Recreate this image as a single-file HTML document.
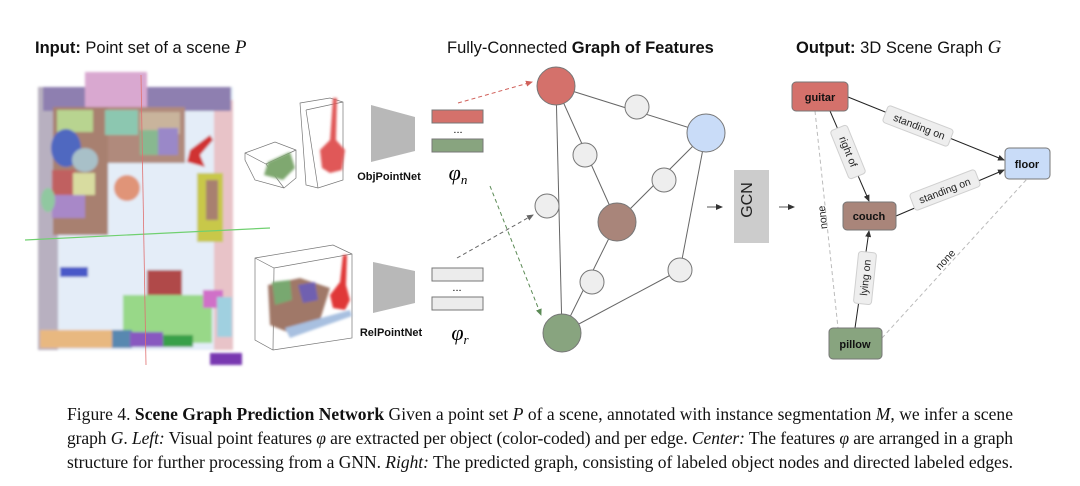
<!DOCTYPE html>
<html><head><meta charset="utf-8"><style>
html,body{margin:0;padding:0;background:#fff;width:1080px;height:486px;overflow:hidden}
svg{display:block}
.t{font-family:"Liberation Sans",sans-serif;font-size:16.5px;fill:#111}
.n{font-family:"Liberation Sans",sans-serif;font-size:11px;font-weight:bold;fill:#111;text-anchor:middle}
.e{font-family:"Liberation Sans",sans-serif;font-size:10.5px;fill:#222;text-anchor:middle}
.c{font-family:"Liberation Serif",serif;font-size:17.5px;fill:#111}
</style></head><body>
<svg width="1080" height="486" viewBox="0 0 1080 486" xmlns="http://www.w3.org/2000/svg">
<defs>
<marker id="a" markerWidth="7" markerHeight="6" refX="6" refY="3" orient="auto" markerUnits="userSpaceOnUse"><path d="M0,0 L7,3 L0,6z" fill="#333"/></marker>
<marker id="ar" markerWidth="7" markerHeight="6" refX="6" refY="3" orient="auto" markerUnits="userSpaceOnUse"><path d="M0,0 L7,3 L0,6z" fill="#d0605a"/></marker>
<marker id="ag" markerWidth="7" markerHeight="6" refX="6" refY="3" orient="auto" markerUnits="userSpaceOnUse"><path d="M0,0 L7,3 L0,6z" fill="#5b8a55"/></marker>
<marker id="ay" markerWidth="7" markerHeight="6" refX="6" refY="3" orient="auto" markerUnits="userSpaceOnUse"><path d="M0,0 L7,3 L0,6z" fill="#666"/></marker>
<filter id="b"><feGaussianBlur stdDeviation="1.2"/></filter>
</defs>

<!-- titles -->
<text class="t" x="35" y="53"><tspan font-weight="bold">Input:</tspan> Point set of a scene <tspan font-family="Liberation Serif" font-style="italic" font-size="19">  P</tspan></text>
<text class="t" x="447" y="53">Fully-Connected <tspan font-weight="bold">Graph of Features</tspan></text>
<text class="t" x="796" y="53"><tspan font-weight="bold">Output:</tspan> 3D Scene Graph <tspan font-family="Liberation Serif" font-style="italic" font-size="19">  G</tspan></text>

<!-- point cloud scene -->
<g filter="url(#b)">
<rect x="38" y="87" width="195" height="263" fill="#e4edf8"/>
<rect x="38" y="87" width="20" height="263" fill="#b8b0c0"/>
<rect x="214" y="100" width="19" height="250" fill="#e8c3c8"/>
<rect x="43" y="87" width="188" height="24" fill="#8e7fb0"/>
<rect x="85" y="72" width="62" height="35" fill="#d9a8d0"/>
<rect x="53" y="107" width="132" height="56" fill="#b08a7c"/>
<rect x="53" y="107" width="55" height="128" fill="#a88070"/>
<rect x="57" y="110" width="36" height="22" fill="#b8d490"/>
<rect x="105" y="110" width="33" height="25" fill="#8cc7b0"/>
<rect x="140" y="112" width="40" height="22" fill="#c9b49c"/>
<rect x="158" y="128" width="20" height="27" fill="#9a88c8"/>
<rect x="140" y="130" width="18" height="25" fill="#88b890"/>
<ellipse cx="66" cy="148" rx="15" ry="19" fill="#5068c0"/>
<ellipse cx="85" cy="160" rx="13" ry="12" fill="#a8c0c8"/>
<rect x="52" y="170" width="23" height="27" fill="#c06060"/>
<rect x="73" y="173" width="22" height="22" fill="#d8dca0"/>
<rect x="52" y="195" width="33" height="23" fill="#a888c8"/>
<ellipse cx="48" cy="200" rx="7" ry="12" fill="#90c8a0"/>
<path d="M190,150 L210,135 L213,140 L200,155 L205,167 L187,162z" fill="#d03030"/>
<circle cx="127" cy="188" r="13" fill="#e09478"/>
<rect x="197" y="173" width="26" height="69" fill="#c8c848"/>
<rect x="206" y="180" width="12" height="40" fill="#a88070"/>
<rect x="60" y="267" width="28" height="10" fill="#4858c8"/>
<rect x="147" y="270" width="35" height="30" fill="#b04848"/>
<rect x="123" y="295" width="89" height="48" fill="#98d888"/>
<rect x="40" y="330" width="72" height="18" fill="#e8b880"/>
<rect x="112" y="330" width="20" height="18" fill="#5888b0"/>
<rect x="130" y="332" width="33" height="15" fill="#8858c0"/>
<rect x="163" y="335" width="30" height="12" fill="#38a048"/>
<rect x="203" y="290" width="20" height="18" fill="#d070c8"/>
<rect x="217" y="297" width="15" height="40" fill="#a0d0e0"/>
<rect x="210" y="353" width="32" height="12" fill="#7838b0"/>
</g>
<line x1="25" y1="240" x2="270" y2="228" stroke="#70d070" stroke-width="1.2"/>
<line x1="141" y1="75" x2="146" y2="365" stroke="#e07070" stroke-width="0.8"/>

<!-- object thumbnails -->
<g stroke="#777" stroke-width="0.7" fill="none">
<path d="M245,153 L275,142 L296,150 L296,178 L284,188 L255,180 L245,160z M245,153 L266,164 L296,150 M266,164 L284,188"/>
<path d="M300,103 L330,98 L343,102 L343,180 L318,188 L306,185 L300,103z M306,110 L343,102 M306,110 L318,188"/>
<path d="M255,258 L333,245 L352,254 L352,338 L273,350 L255,340z M255,258 L274,268 L352,254 M274,268 L273,350"/>
</g>
<g filter="url(#b)">
<path d="M268,162 L290,152 L295,168 L283,180 L264,175z" fill="#7fa870"/>
<path d="M333,98 L337,98 L336,140 L345,150 L342,170 L330,173 L322,168 L320,150 L330,140z" fill="#e05858"/>
<path d="M268,285 L300,278 L330,288 L320,320 L290,333 L270,325z" fill="#a07868"/>
<path d="M272,282 L290,280 L292,300 L275,305z" fill="#78a870"/>
<path d="M298,285 L315,282 L318,300 L303,303z" fill="#7060b0"/>
<path d="M343,255 L347,255 L346,285 L350,300 L345,310 L333,308 L330,295 L340,282z" fill="#e03838"/>
<path d="M285,328 L350,310 L352,316 L290,338z" fill="#a8c0e0"/>
</g>

<!-- pointnets -->
<polygon points="371,105 415,117 415,151 371,162" fill="#b8b8b8"/>
<polygon points="373,262 415,271 415,303 373,313" fill="#b8b8b8"/>
<text class="n" x="389" y="180" font-size="11.5">ObjPointNet</text>
<text class="n" x="391" y="336" font-size="11.5">RelPointNet</text>

<rect x="432" y="110" width="51" height="13" fill="#d4716b" stroke="#777"/>
<rect x="432" y="139" width="51" height="13" fill="#88a47f" stroke="#777"/>
<text x="458" y="133" font-size="11" text-anchor="middle" font-family="Liberation Sans">...</text>
<rect x="432" y="268" width="51" height="13" fill="#ececec" stroke="#777"/>
<rect x="432" y="297" width="51" height="13" fill="#ececec" stroke="#777"/>
<text x="457" y="291" font-size="11" text-anchor="middle" font-family="Liberation Sans">...</text>
<text x="458" y="180" font-size="22" font-style="italic" font-family="Liberation Serif" text-anchor="middle">φ<tspan font-size="13" dy="4">n</tspan></text>
<text x="460" y="340" font-size="22" font-style="italic" font-family="Liberation Serif" text-anchor="middle">φ<tspan font-size="13" dy="4">r</tspan></text>

<!-- dashed arrows -->
<line x1="458" y1="103" x2="532" y2="82" stroke="#d0605a" stroke-dasharray="4,3" marker-end="url(#ar)"/>
<line x1="457" y1="258" x2="533" y2="215" stroke="#666" stroke-dasharray="4,3" marker-end="url(#ay)"/>
<line x1="490" y1="186" x2="541" y2="315" stroke="#5b8a55" stroke-dasharray="4,3" marker-end="url(#ag)"/>

<!-- graph -->
<g stroke="#666" stroke-width="1">
<line x1="556" y1="86" x2="706" y2="133"/>
<line x1="556" y1="86" x2="617" y2="222"/>
<line x1="556" y1="86" x2="562" y2="333"/>
<line x1="706" y1="133" x2="617" y2="222"/>
<line x1="706" y1="133" x2="680" y2="270"/>
<line x1="680" y1="270" x2="562" y2="333"/>
<line x1="617" y1="222" x2="562" y2="333"/>
</g>
<g stroke="#777" stroke-width="1">
<circle cx="556" cy="86" r="19" fill="#d4716b"/>
<circle cx="706" cy="133" r="19" fill="#c9dcf8"/>
<circle cx="617" cy="222" r="19" fill="#a9857a"/>
<circle cx="562" cy="333" r="19" fill="#88a47f"/>
<circle cx="637" cy="107" r="12" fill="#eeeeee"/>
<circle cx="585" cy="155" r="12" fill="#eeeeee"/>
<circle cx="664" cy="180" r="12" fill="#eeeeee"/>
<circle cx="547" cy="206" r="12" fill="#eeeeee"/>
<circle cx="592" cy="282" r="12" fill="#eeeeee"/>
<circle cx="680" cy="270" r="12" fill="#eeeeee"/>
</g>

<!-- GCN -->
<line x1="707" y1="207" x2="722" y2="207" stroke="#555" marker-end="url(#a)"/>
<rect x="734" y="170" width="35" height="73" fill="#cccccc"/>
<text x="759" y="207" font-family="Liberation Sans" font-size="16" text-anchor="middle" transform="rotate(-90 752 207)" fill="#222">GCN</text>
<line x1="779" y1="207" x2="794" y2="207" stroke="#555" marker-end="url(#a)"/>

<!-- scene graph -->
<line x1="815" y1="111" x2="838" y2="328" stroke="#bbb" stroke-dasharray="4,3"/>
<line x1="882" y1="338" x2="1027" y2="179" stroke="#bbb" stroke-dasharray="4,3"/>
<text class="e" x="826" y="217" fill="#444" transform="rotate(-96 826 217)">none</text>
<text class="e" x="948" y="262" fill="#444" transform="rotate(-47 948 262)">none</text>
<g stroke="#222" stroke-width="1">
<line x1="848" y1="97" x2="1004" y2="160" marker-end="url(#a)"/>
<line x1="830" y1="111" x2="869" y2="201" marker-end="url(#a)"/>
<line x1="896" y1="216" x2="1004" y2="170" marker-end="url(#a)"/>
<line x1="855" y1="328" x2="869" y2="231" marker-end="url(#a)"/>
</g>
<g fill="#eeeeee" stroke="#d0d0d0">
<rect x="-35" y="-9" width="70" height="18" rx="3" transform="translate(918 126) rotate(21)"/>
<rect x="-26" y="-9" width="52" height="18" rx="3" transform="translate(848 152) rotate(68)"/>
<rect x="-35" y="-9" width="70" height="18" rx="3" transform="translate(945 190) rotate(-21)"/>
<rect x="-26" y="-9" width="52" height="18" rx="3" transform="translate(865 278) rotate(-84)"/>
</g>
<text class="e" transform="translate(918 130) rotate(21)">standing on</text>
<text class="e" transform="translate(845 153) rotate(68)">right of</text>
<text class="e" transform="translate(946 194) rotate(-21)">standing on</text>
<text class="e" transform="translate(869 278) rotate(-84)">lying on</text>

<g stroke="#777" stroke-width="1">
<rect x="792" y="82" width="56" height="29" rx="4" fill="#d4716b"/>
<rect x="1005" y="148" width="45" height="31" rx="4" fill="#c9dcf8"/>
<rect x="843" y="202" width="53" height="28" rx="4" fill="#a9857a"/>
<rect x="829" y="328" width="53" height="31" rx="4" fill="#88a47f"/>
</g>
<text class="n" x="820" y="101">guitar</text>
<text class="n" x="1027" y="168">floor</text>
<text class="n" x="869" y="220">couch</text>
<text class="n" x="855" y="348">pillow</text>

<!-- caption -->
<text class="c" x="67" y="420" textLength="946" lengthAdjust="spacing">Figure 4. <tspan font-weight="bold">Scene Graph Prediction Network</tspan> Given a point set <tspan font-style="italic">P</tspan> of a scene, annotated with instance segmentation <tspan font-style="italic">M</tspan>, we infer a scene</text>
<text class="c" x="67" y="444" textLength="946" lengthAdjust="spacing">graph <tspan font-style="italic">G</tspan>. <tspan font-style="italic">Left:</tspan> Visual point features <tspan font-style="italic">φ</tspan> are extracted per object (color-coded) and per edge. <tspan font-style="italic">Center:</tspan> The features <tspan font-style="italic">φ</tspan> are arranged in a graph</text>
<text class="c" x="67" y="468" textLength="946" lengthAdjust="spacing">structure for further processing from a GNN. <tspan font-style="italic">Right:</tspan> The predicted graph, consisting of labeled object nodes and directed labeled edges.</text>
</svg>
</body></html>
